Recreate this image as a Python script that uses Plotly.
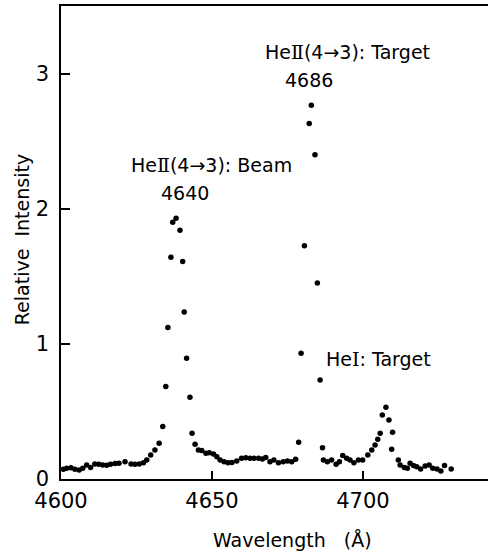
import plotly.graph_objects as go

wavelength = [
    4600.8, 4601.9, 4603.3, 4604.6, 4606.0, 4607.2, 4608.5, 4609.8, 4611.2, 4612.5,
    4613.8, 4615.1, 4616.4, 4617.9, 4619.2, 4621.2, 4623.2, 4624.5, 4625.9, 4627.3,
    4628.4, 4629.7, 4631.1, 4632.5, 4633.7, 4634.7, 4635.4, 4636.4, 4637.0, 4638.1,
    4639.4, 4640.3, 4640.8, 4641.6, 4642.7, 4643.4, 4644.4, 4645.5, 4646.6, 4648.0,
    4649.1, 4650.5, 4651.6, 4652.7, 4654.0, 4655.3, 4656.6, 4658.2, 4659.8, 4661.2,
    4662.6, 4663.9, 4665.4, 4666.7, 4667.8, 4669.2, 4670.5, 4672.0, 4673.6, 4675.0,
    4676.4, 4677.7, 4678.7, 4679.5, 4680.6, 4682.2, 4682.9, 4684.1, 4684.9, 4685.8,
    4686.6, 4686.9, 4688.2, 4689.6, 4691.1, 4692.2, 4693.3, 4694.6, 4695.7, 4697.0,
    4698.5, 4699.9, 4701.6, 4702.9, 4704.0, 4704.9, 4705.7, 4706.4, 4707.6, 4708.6,
    4709.8, 4709.5, 4711.7, 4712.3, 4713.7, 4714.7, 4715.6, 4716.7, 4717.8, 4719.1,
    4720.6, 4721.9, 4723.1, 4724.5, 4725.8, 4727.0, 4729.2,
]
intensity = [
    0.072, 0.079, 0.084, 0.072, 0.067, 0.079, 0.104, 0.086, 0.111, 0.109,
    0.104, 0.101, 0.109, 0.114, 0.116, 0.128, 0.111, 0.109, 0.111, 0.121,
    0.141, 0.178, 0.215, 0.264, 0.388, 0.684, 1.121, 1.64, 1.90, 1.93,
    1.84, 1.61, 1.235, 0.894, 0.605, 0.338, 0.257, 0.215, 0.210, 0.190,
    0.195, 0.185, 0.165, 0.141, 0.128, 0.121, 0.123, 0.133, 0.153, 0.158,
    0.153, 0.153, 0.153, 0.148, 0.160, 0.128, 0.141, 0.121, 0.128, 0.133,
    0.128, 0.146, 0.272, 0.931, 1.726, 2.63, 2.765, 2.40, 1.45, 0.733,
    0.232, 0.141, 0.128, 0.141, 0.109, 0.128, 0.173, 0.153, 0.141, 0.121,
    0.141, 0.141, 0.178, 0.215, 0.252, 0.294, 0.338, 0.474, 0.531, 0.437,
    0.346, 0.220, 0.141, 0.104, 0.086, 0.079, 0.116, 0.099, 0.091, 0.074,
    0.096, 0.104, 0.079, 0.074, 0.059, 0.099, 0.074,
]

x_ticks = [4600, 4650, 4700]
y_ticks = [0, 1, 2, 3]

SER = '<span style="font-family:DejaVu Serif">{}</span>'
labels = [
    ("He" + SER.format("Ⅱ") + "(4→3): Target", 4695.0, 3.163),
    ("4686", 4682.1, 2.956),
    ("He" + SER.format("Ⅱ") + "(4→3): Beam", 4649.7, 2.326),
    ("4640", 4641.1, 2.119),
    ("He" + SER.format("Ⅰ") + ": Target", 4705.3, 0.889),
]

FONT = "DejaVu Sans"

fig = go.Figure()
fig.add_trace(go.Scatter(
    x=wavelength, y=intensity, mode="markers",
    marker=dict(color="black", size=5.5),
    showlegend=False, hoverinfo="skip",
))

for txt, xv, yv in labels:
    fig.add_annotation(x=xv, y=yv, text=txt, showarrow=False,
                       font=dict(family=FONT, size=19, color="black"),
                       xanchor="center", yanchor="middle")

fig.add_annotation(xref="paper", yref="paper", x=-0.091, y=0.505,
                   text="Relative  Intensity", textangle=-90, showarrow=False,
                   font=dict(family=FONT, size=19, color="black"),
                   xanchor="center", yanchor="middle")
fig.add_annotation(xref="paper", yref="paper", x=0.541, y=-0.129,
                   text="Wavelength   (Å)", showarrow=False,
                   font=dict(family=FONT, size=19, color="black"),
                   xanchor="center", yanchor="middle")

fig.update_xaxes(range=[4600, 4741.4], tickvals=x_ticks,
                 ticktext=[str(t) for t in x_ticks],
                 ticks="inside", ticklen=8, tickwidth=1.5, tickcolor="black",
                 showline=True, linecolor="black", linewidth=1.5, mirror=True,
                 showgrid=False, zeroline=False, ticklabelstandoff=2,
                 tickfont=dict(family=FONT, size=21, color="black"))
fig.update_yaxes(range=[0, 3.5], tickvals=y_ticks,
                 ticktext=[str(t) for t in y_ticks],
                 ticks="inside", ticklen=9, tickwidth=1.5, tickcolor="black",
                 showline=True, linecolor="black", linewidth=1.5,
                 showgrid=False, zeroline=False, ticklabelstandoff=6,
                 tickfont=dict(family=FONT, size=21, color="black"))

fig.update_layout(width=488, height=556,
                  margin=dict(l=61, r=0, t=6, b=77),
                  plot_bgcolor="white", paper_bgcolor="white")

fig.write_html("out.html")
